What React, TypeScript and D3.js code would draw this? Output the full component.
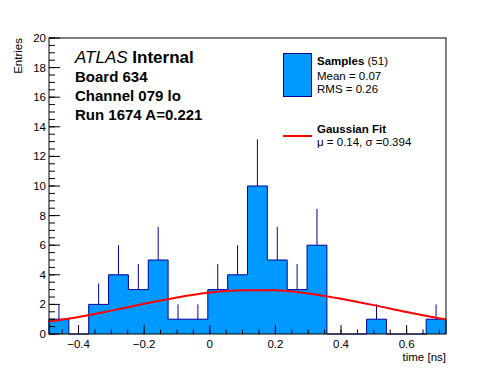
import React from 'react';
import * as d3 from 'd3';

// histogram: 20 bins from -0.49 to 0.72 ns
const binStart = -0.49;
const binEnd = 0.72;
const counts = [1, 0, 2, 4, 3, 5, 1, 1, 3, 4, 10, 5, 3, 6, 0, 0, 1, 0, 0, 1];
const errors = [1, 0, 1.41, 2, 1.73, 2.24, 1, 1, 1.73, 2, 3.16, 2.24, 1.73, 2.45, 0, 0, 1, 0, 0, 1];

// gaussian fit curve
const fitX = [-0.49, -0.4, -0.3, -0.2, -0.1, 0, 0.1, 0.2, 0.3, 0.4, 0.5, 0.6, 0.72];
const fitY = [0.84, 1.15, 1.58, 2.04, 2.47, 2.8, 2.96, 2.95, 2.74, 2.38, 1.95, 1.48, 0.98];

const xTicks = [-0.4, -0.2, 0, 0.2, 0.4, 0.6];
const yTicks = [0, 2, 4, 6, 8, 10, 12, 14, 16, 18, 20];

const infoLines = ['Board 634', 'Channel 079 lo', 'Run 1674 A=0.221'];

const FONT = '"Liberation Sans", Arial, Helvetica, sans-serif';
const FILL = '#0099ff';
const EDGE = '#000099';

export default function App() {
    const W = 496, H = 372;
    const left = 49, right = 446, top = 38, bottom = 334;

    const x = d3.scaleLinear().domain([binStart, binEnd]).range([left, right]);
    const y = d3.scaleLinear().domain([0, 20]).range([bottom, top]);

    const bw = (binEnd - binStart) / counts.length;
    const edges = counts.map((_, i) => binStart + i * bw);

    const pts: [number, number][] = [[binStart, 0]];
    counts.forEach((c, i) => {
        pts.push([edges[i], c]);
        pts.push([edges[i] + bw, c]);
    });
    pts.push([binEnd, 0]);

    const outline = d3.line<[number, number]>().x(d => x(d[0])).y(d => y(d[1]))(pts) || '';
    const fill = d3.area<[number, number]>().x(d => x(d[0])).y0(y(0)).y1(d => y(d[1]))(pts) || '';

    const fitPath = d3.line<number>()
        .curve(d3.curveMonotoneX)
        .x((_, i) => x(fitX[i]))
        .y(d => y(d))(fitY) || '';

    const xMinor = d3.range(-0.45, 0.721, 0.05).filter(v => v >= binStart);
    const yMinor = d3.range(0, 20.01, 0.5);

    return (
        <svg width={W} height={H} style={{ position: 'absolute', left: 0, top: 0, background: '#fff' }}
            fontFamily={FONT}>
            <rect x={0} y={0} width={W} height={H} fill="#fff" />
            <defs>
                <clipPath id="frame">
                    <rect x={left} y={top} width={right - left} height={bottom - top} />
                </clipPath>
            </defs>

            {/* error bars behind the histogram */}
            {counts.map((c, i) => c > 0 && (
                <line key={'e' + i} x1={x(edges[i] + bw / 2)} x2={x(edges[i] + bw / 2)}
                    y1={y(c)} y2={y(c + errors[i])} stroke={EDGE} strokeWidth={1} />
            ))}
            <path d={fill} fill={FILL} />
            <path d={outline} fill="none" stroke={EDGE} strokeWidth={1} />

            <path d={fitPath} fill="none" stroke="#ff0000" strokeWidth={2} clipPath="url(#frame)" />

            {/* frame */}
            <rect x={left} y={top} width={right - left} height={bottom - top} fill="none" stroke="#000" strokeWidth={1} />

            {/* x axis */}
            {xMinor.map((v, i) => (
                <line key={'xm' + i} x1={x(v)} x2={x(v)} y1={bottom} y2={bottom - 4.5} stroke="#000" />
            ))}
            {xTicks.map(v => (
                <g key={'x' + v}>
                    <line x1={x(v)} x2={x(v)} y1={bottom} y2={bottom - 9} stroke="#000" />
                    <text x={x(v)} y={348} fontSize={11.5} textAnchor="middle">
                        {v < 0 ? '\u2212' + Math.abs(v) : String(v)}
                    </text>
                </g>
            ))}
            <text x={right} y={361} fontSize={11.5} textAnchor="end">time [ns]</text>

            {/* y axis */}
            {yMinor.map((v, i) => (
                <line key={'ym' + i} x1={left} x2={left + 6} y1={y(v)} y2={y(v)} stroke="#000" />
            ))}
            {yTicks.map(v => (
                <g key={'y' + v}>
                    <line x1={left} x2={left + 11} y1={y(v)} y2={y(v)} stroke="#000" />
                    <text x={46} y={y(v)} dy="0.35em" fontSize={11.5} textAnchor="end">{v}</text>
                </g>
            ))}
            <text transform={`translate(22, ${top}) rotate(-90)`} fontSize={11.5} textAnchor="end">Entries</text>

            {/* labels */}
            <text x={75} y={63} fontSize={17}>
                <tspan fontStyle="italic">ATLAS</tspan>
                <tspan fontWeight="bold"> Internal</tspan>
            </text>
            {infoLines.map((t, i) => (
                <text key={t} x={75} y={82 + i * 19} fontSize={15} fontWeight="bold">{t}</text>
            ))}

            {/* legend */}
            <rect x={283.5} y={53.5} width={28} height={43} fill={FILL} stroke={EDGE} strokeWidth={1} />
            <text x={317} y={65} fontSize={11.5}>
                <tspan fontWeight="bold">Samples</tspan>
                <tspan> (51)</tspan>
            </text>
            <text x={317} y={80} fontSize={11.5}>Mean = 0.07</text>
            <text x={317} y={93} fontSize={11.5}>RMS = 0.26</text>

            <line x1={283} x2={312} y1={136} y2={136} stroke="#ff0000" strokeWidth={2} />
            <text x={317} y={133} fontSize={11.5} fontWeight="bold">Gaussian Fit</text>
            <text x={317} y={146} fontSize={11.5}>{'\u03bc = 0.14, \u03c3 =0.394'}</text>
        </svg>
    );
}
